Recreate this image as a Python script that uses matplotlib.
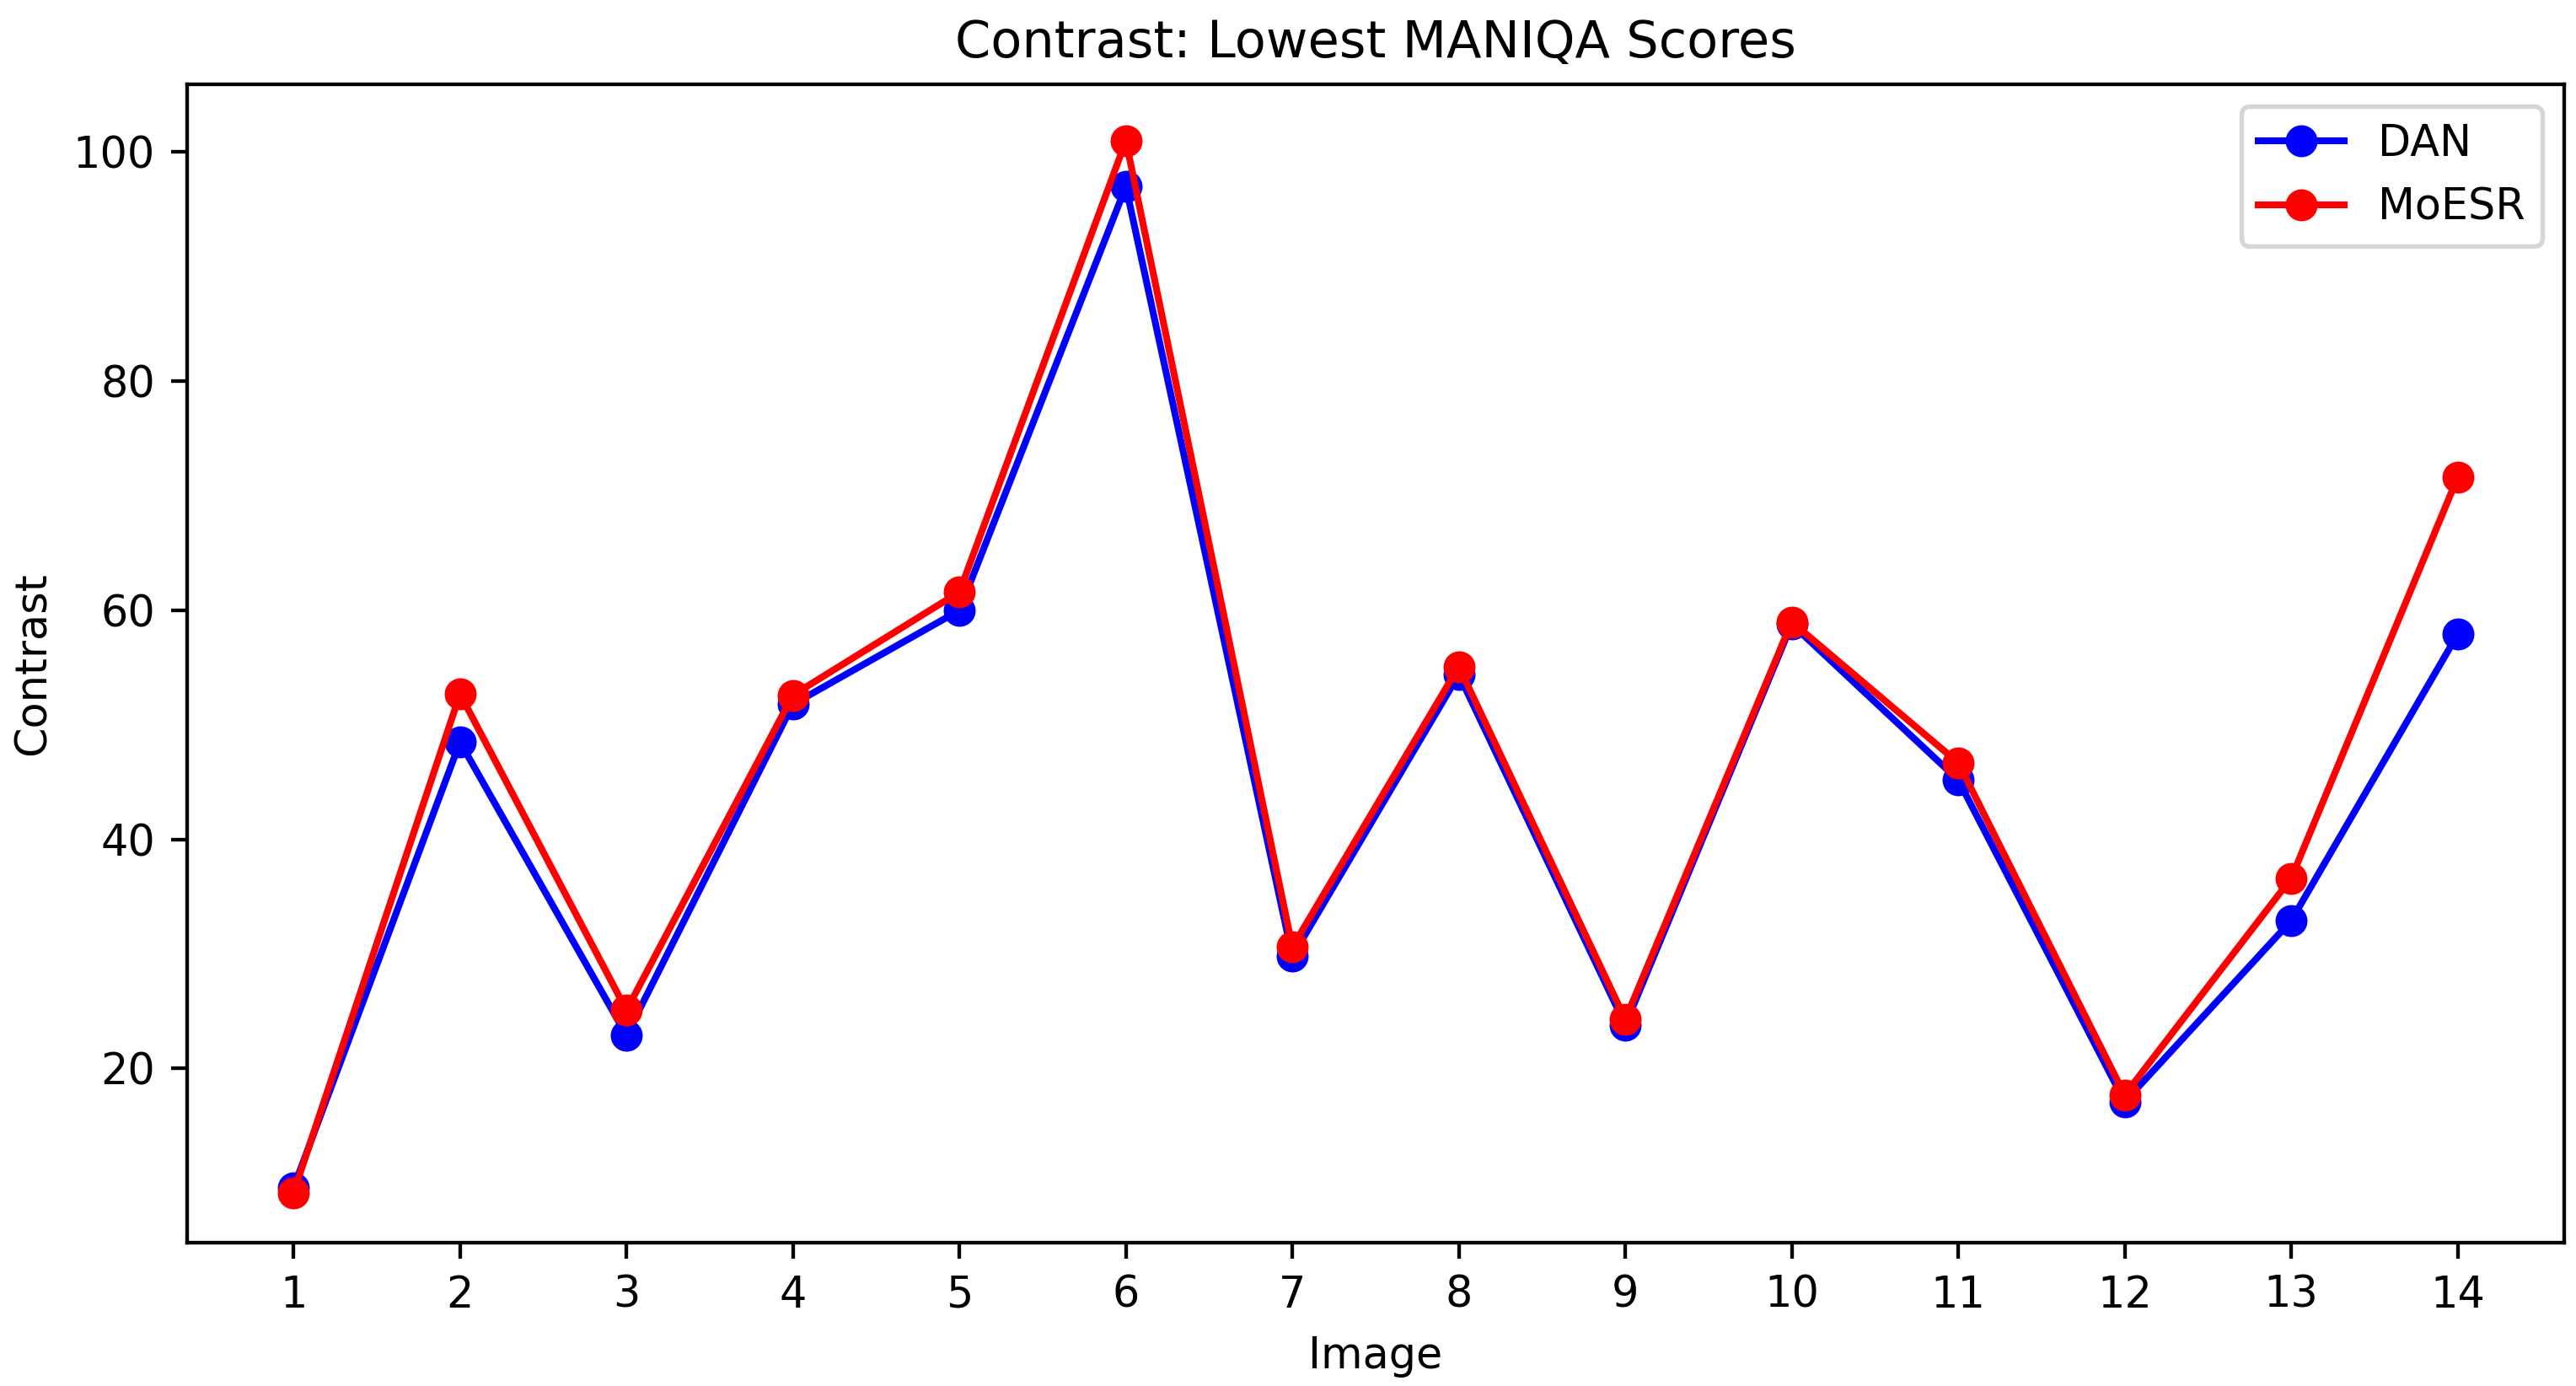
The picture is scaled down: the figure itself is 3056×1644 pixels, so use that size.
import matplotlib
matplotlib.use("Agg")
import matplotlib.pyplot as plt

images = list(range(1, 15))
dan = [9.6, 48.5, 22.9, 51.8, 60.0, 97.0, 29.8, 54.4, 23.8, 58.8, 45.2, 17.1, 32.9, 57.9]
moesr = [9.15, 52.7, 25.1, 52.6, 61.6, 101.0, 30.6, 55.1, 24.3, 59.0, 46.7, 17.7, 36.6, 71.6]

plt.rcParams['font.size'] = 9.4
plt.rcParams['axes.titlesize'] = 11.2

DPI = 390
fig = plt.figure(figsize=(3056 / DPI, 1644 / DPI), dpi=DPI)
ax = fig.add_subplot(111)
fig.subplots_adjust(left=0.0726, right=0.9954, top=0.939, bottom=0.1034)

ax.plot(images, dan, marker='o', color='blue', label='DAN')
ax.plot(images, moesr, marker='o', color='red', label='MoESR')

ax.set_xticks(images)
ax.set_xlim(0.36, 14.64)
ax.set_ylim(4.8, 105.9)
ax.set_yticks([20, 40, 60, 80, 100])
ax.set_title('Contrast: Lowest MANIQA Scores')
ax.set_xlabel('Image')
ax.set_ylabel('Contrast')
ax.legend(loc='upper right')

fig.savefig('out.png', dpi=DPI)
